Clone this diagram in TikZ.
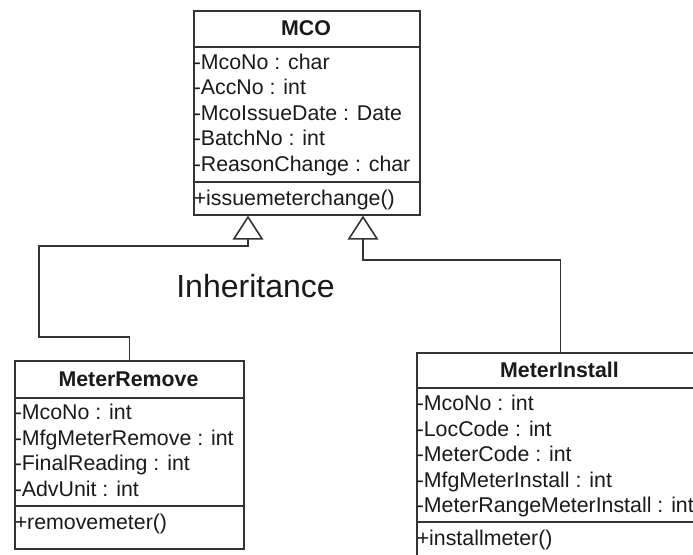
\documentclass[tikz,border=0pt]{standalone}
\usepackage{fontspec}
\setmainfont{Liberation Sans}
\usetikzlibrary{arrows.meta}
\definecolor{linec}{HTML}{333333}
\definecolor{textc}{HTML}{1A1A1A}
\begin{document}
\begin{tikzpicture}[x=0.75pt,y=-0.75pt,
  classbox/.style={draw=linec, line width=1.2pt, inner sep=0pt, anchor=north west},
  attr/.style={anchor=west, inner sep=0pt, text=textc, text height=12pt, text depth=1pt,
    font=\fontsize{16}{19}\selectfont},
  ctitle/.style={anchor=center, inner sep=0pt, text=textc, text height=12pt, text depth=1pt,
    font=\fontsize{16}{19}\selectfont\bfseries},
  sep/.style={draw=linec, line width=1.2pt},
  inh/.style={draw=linec, line width=1.2pt, line join=miter,
    -{Triangle[open, width=23pt, length=18pt]}},
  ]
\clip (0,0) rectangle (693,554);
\fill[white] (0,0) rectangle (693,554);

% ---------- class MCO ----------
\node[classbox, minimum width=169.5pt, minimum height=153pt] (mco) at (193,10) {};
\draw[sep] (mco.west |- 0,47) -- (mco.east |- 0,47);
\draw[sep] (mco.west |- 0,182) -- (mco.east |- 0,182);
\node[ctitle] (mcot) at (306,28.5) {MCO};
\node[attr] (mco1) at (193.5,62)  {-McoNo : char};
\node[attr] (mco2) at (193.5,87.5) {-AccNo : int};
\node[attr] (mco3) at (193.5,113) {-McoIssueDate : Date};
\node[attr] (mco4) at (193.5,138.5) {-BatchNo : int};
\node[attr] (mco5) at (193.5,164) {-ReasonChange : char};
\node[attr] (mcom) at (193.5,198) {+issuemeterchange()};

% ---------- class MeterRemove ----------
\node[classbox, minimum width=171.75pt, minimum height=141pt] (rm) at (14,360) {};
\draw[sep] (rm.west |- 0,398) -- (rm.east |- 0,398);
\draw[sep] (rm.west |- 0,506) -- (rm.east |- 0,506);
\node[ctitle] (rmt) at (128.5,379) {MeterRemove};
\node[attr] (rm1) at (14.5,412) {-McoNo : int};
\node[attr] (rm2) at (14.5,438) {-MfgMeterRemove : int};
\node[attr] (rm3) at (14.5,463.5) {-FinalReading : int};
\node[attr] (rm4) at (14.5,489) {-AdvUnit : int};
\node[attr] (rmm) at (14.5,522) {+removemeter()};

% ---------- class MeterInstall ----------
\node[classbox, minimum width=215.25pt, minimum height=165pt] (mi) at (416,352) {};
\draw[sep] (mi.west |- 0,388) -- (mi.east |- 0,388);
\draw[sep] (mi.west |- 0,522) -- (mi.east |- 0,522);
\node[ctitle] (mit) at (559.5,370) {MeterInstall};
\node[attr] (mi1) at (416.5,403) {-McoNo : int};
\node[attr] (mi2) at (416.5,429) {-LocCode : int};
\node[attr] (mi3) at (416.5,454.5) {-MeterCode : int};
\node[attr] (mi4) at (416.5,480) {-MfgMeterInstall : int};
\node[attr] (mi5) at (416.5,505.5) {-MeterRangeMeterInstall : int};
\node[attr] (mim) at (416.5,538) {+installmeter()};

% ---------- generalisation connectors ----------
\coordinate (lb) at (39,337);
\coordinate (lt) at (39,246);
\coordinate (lx) at (248,0);
\coordinate (rj) at (363,260);
\draw[inh] (rm.north) |- (lb) -- (lt) -| (lx |- mco.south);
\draw[inh] (mi.north) |- (rj) -- (rj |- mco.south);

\node[anchor=center, inner sep=0pt, text=textc, font=\fontsize{24}{28}\selectfont]
  (lbl) at (255.5,286) {Inheritance};
\end{tikzpicture}
\end{document}
